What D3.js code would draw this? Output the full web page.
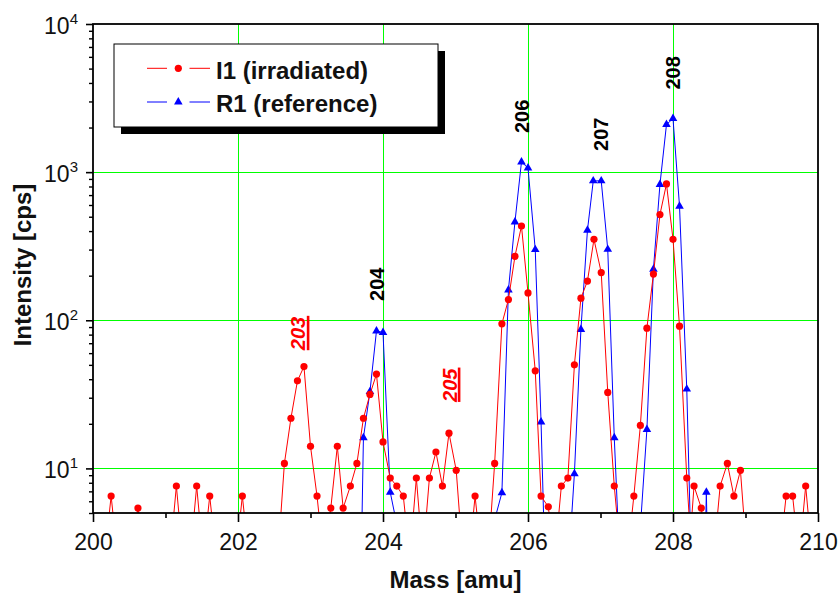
<!DOCTYPE html>
<html>
<head>
<meta charset="utf-8">
<script src="https://cdn.jsdelivr.net/npm/d3@7"></script>
<style>
  body { margin: 0; background: #fff; }
  svg text { font-family: "Liberation Sans", Arial, Helvetica, sans-serif; }
</style>
</head>
<body>
<svg id="chart" width="839" height="596"></svg>
<script>
// I1 (irradiated): mass [amu] and intensity [cps]; values under 5 cps fall below the axis
const massI1 = [200.16,200.25,200.34,200.52,200.62,200.71,201.06,201.15,201.24,201.34,201.43,201.52,201.61,201.70,
  201.97,202.06,202.15,202.55,202.64,202.73,202.82,202.91,203.00,203.09,203.18,203.28,203.37,203.45,203.55,203.64,
  203.73,203.82,203.91,204.00,204.10,204.19,204.28,204.37,204.46,204.55,204.64,204.73,204.82,204.91,205.01,205.10,
  205.19,205.27,205.36,205.45,205.54,205.64,205.73,205.82,205.91,206.00,206.10,206.18,206.28,206.37,206.46,206.55,
  206.64,206.73,206.82,206.91,207.01,207.10,207.19,207.28,207.37,207.46,207.55,207.64,207.73,207.82,207.91,208.00,
  208.09,208.19,208.24,208.29,208.39,208.47,208.56,208.65,208.75,208.84,208.93,209.02,209.47,209.56,209.65,209.74,
  209.83,209.92];
const cpsI1 = [2.5,6.5,2.5,2.5,5.4,2.5,2.5,7.6,2.5,2.5,7.6,2.5,6.5,2.5,
  2.5,6.5,2.5,2.5,10.8,21.8,39,48.7,14.1,6.5,2.5,5.4,14.1,5.4,7.6,10.8,
  21.8,31.6,43.3,15.1,8.6,7.6,6.5,2.5,8.6,2.5,8.6,12.9,7.6,17.3,9.7,2.5,
  2.5,6.5,2.5,2.5,10.8,94.6,138,270,433,153,45.6,6.5,5.5,2.5,7.6,8.6,
  50,141,184,352,210,32.6,7.6,2.5,2.5,6.5,19.5,88.5,205,517,832,352,
  91.2,8.6,3.5,7.6,5.4,2.5,2.5,7.6,10.8,6.5,9.7,2.5,2.5,6.5,6.5,2.5,
  7.6,2.5];

// R1 (reference)
const massR1 = [203.64,203.73,203.82,203.91,204.00,204.10,204.19,205.54,205.64,205.73,205.82,205.91,206.00,206.10,
  206.18,206.28,206.55,206.64,206.73,206.82,206.90,207.01,207.10,207.19,207.28,207.55,207.64,207.73,207.82,207.91,
  208.00,208.09,208.19,208.28,208.37,208.46,208.55];
const cpsR1 = [0.05,16.1,33,84.7,82.8,6.9,4.2,4.5,6.85,160,461,1172,1067,300,
  20.6,0.33,1.9,9.2,86.7,405,873,873,301,16.1,1.6,4,18.3,221,825,2094,
  2301,589,34.3,0.68,0.05,6.9,0.05];

const seriesNames = ["I1 (irradiated)", "R1 (reference)"];
const xMajorTicks = [200, 202, 204, 206, 208, 210];
const xMinorTicks = [201, 203, 205, 207, 209];
const yDecades = [10, 100, 1000, 10000];
const yGrid = [10, 100, 1000];
const xGrid = [202, 204, 206, 208];

// isotope annotations, anchored at (mass, cps) of the text start
const noteText = ["203", "204", "205", "206", "207", "208"];
const noteMass = [202.931, 204.014, 205.014, 206.014, 207.103, 208.103];
const noteCps  = [62.8, 135, 28.1, 1837, 1390, 3606];
const noteRed  = [true, false, true, false, false, false];

const svg = d3.select("#chart");
const L = 93, R = 818, T = 24, B = 513;
const x = d3.scaleLinear().domain([200, 210]).range([L, R]);
const y = d3.scaleLog().domain([5, 10000]).range([B, T]);

const RED = "#ff0000", BLUE = "#0000ff", GREEN = "#00ff00";

svg.append("defs").append("clipPath").attr("id", "plotclip")
  .append("rect").attr("x", L).attr("y", T).attr("width", R - L).attr("height", B - T);

// grid
const grid = svg.append("g").attr("stroke", GREEN).attr("stroke-width", 1).attr("shape-rendering", "crispEdges");
grid.selectAll("line.v").data(xGrid).join("line")
  .attr("x1", d => x(d)).attr("x2", d => x(d)).attr("y1", T).attr("y2", B);
grid.selectAll("line.h").data(yGrid).join("line")
  .attr("y1", d => y(d)).attr("y2", d => y(d)).attr("x1", L).attr("x2", R);

// series
const plot = svg.append("g").attr("clip-path", "url(#plotclip)");
const line = d3.line().x(d => x(d[0])).y(d => y(d[1]));
const dataI1 = massI1.map((m, i) => [m, cpsI1[i]]);
const dataR1 = massR1.map((m, i) => [m, cpsR1[i]]);

plot.append("path").datum(dataR1).attr("d", line)
  .attr("fill", "none").attr("stroke", BLUE).attr("stroke-width", 1);
const tri = d3.symbol().type(d3.symbolTriangle).size(32);
plot.selectAll("path.tri").data(dataR1.filter(d => d[1] >= 5)).join("path")
  .attr("class", "tri").attr("d", tri)
  .attr("transform", d => `translate(${x(d[0])},${y(d[1])})`)
  .attr("fill", BLUE);

plot.append("path").datum(dataI1).attr("d", line)
  .attr("fill", "none").attr("stroke", RED).attr("stroke-width", 1);
plot.selectAll("circle").data(dataI1.filter(d => d[1] >= 5)).join("circle")
  .attr("cx", d => x(d[0])).attr("cy", d => y(d[1])).attr("r", 3.6)
  .attr("fill", RED);

// axes
const axX = svg.append("g").attr("transform", `translate(0,${B})`)
  .call(d3.axisBottom(x).tickValues(xMajorTicks).tickSize(9).tickFormat(d3.format("d")));
axX.select(".domain").remove();
axX.selectAll("line").attr("stroke-width", 1.6);
axX.selectAll("text").attr("dy", null).attr("y", 37)
  .attr("font-size", 23).attr("fill", "#111");
const axXm = svg.append("g").attr("transform", `translate(0,${B})`)
  .call(d3.axisBottom(x).tickValues(xMinorTicks).tickSize(5).tickFormat(""));
axXm.select(".domain").remove();
axXm.selectAll("line").attr("stroke-width", 1.6);

const yMinor = [];
[1, 10, 100, 1000].forEach(dec => { for (let k = 2; k <= 9; k++) { const v = k * dec; if (v >= 5 && v <= 10000) yMinor.push(v); } });
const axYm = svg.append("g").attr("transform", `translate(${L},0)`)
  .call(d3.axisLeft(y).tickValues(yMinor).tickSize(4).tickFormat(""));
axYm.select(".domain").remove();
axYm.selectAll("line").attr("stroke-width", 1.4);

const axY = svg.append("g").attr("transform", `translate(${L},0)`)
  .call(d3.axisLeft(y).tickValues(yDecades).tickSize(7).tickFormat(() => ""));
axY.select(".domain").remove();
axY.selectAll("line").attr("stroke-width", 1.6);
axY.selectAll(".tick").each(function (d) {
  const t = d3.select(this).select("text")
    .attr("x", -15).attr("dy", null).attr("y", 9)
    .attr("font-size", 23).attr("fill", "#111").attr("text-anchor", "end");
  t.text(null);
  t.append("tspan").text("10");
  t.append("tspan").attr("font-size", 15).attr("dy", -10).text(String(Math.round(Math.log10(d))));
});

// frame
svg.append("rect").attr("x", L).attr("y", T).attr("width", R - L).attr("height", B - T)
  .attr("fill", "none").attr("stroke", "#000").attr("stroke-width", 1.8);

// axis titles
svg.append("text").attr("x", (L + R) / 2).attr("y", 588).attr("text-anchor", "middle")
  .attr("font-size", 24).attr("font-weight", "bold").attr("fill", "#111").text("Mass [amu]");
svg.append("text").attr("transform", "translate(30.5,265) rotate(-90)").attr("text-anchor", "middle")
  .attr("font-size", 24).attr("font-weight", "bold").attr("fill", "#111").text("Intensity [cps]");

// isotope annotations
noteText.forEach((txt, i) => {
  const g = svg.append("g")
    .attr("transform", `translate(${x(noteMass[i])},${y(noteCps[i])}) rotate(-90)`);
  const t = g.append("text").attr("x", 0).attr("y", 0)
    .attr("font-size", 20).attr("font-weight", "bold")
    .attr("font-style", noteRed[i] ? "italic" : "normal")
    .attr("fill", noteRed[i] ? RED : "#000").text(txt);
  if (noteRed[i]) {
    const len = t.node().getComputedTextLength();
    g.append("line").attr("x1", 0).attr("x2", len + 1).attr("y1", 2.6).attr("y2", 2.6)
      .attr("stroke", RED).attr("stroke-width", 2.6);
  }
});

// legend
const lg = svg.append("g");
lg.append("rect").attr("x", 121).attr("y", 51).attr("width", 324).attr("height", 83).attr("fill", "#000");
lg.append("rect").attr("x", 114).attr("y", 44).attr("width", 324).attr("height", 83)
  .attr("fill", "#fff").attr("stroke", "#000").attr("stroke-width", 1);
const legendRows = [
  { name: seriesNames[0], color: RED, cy: 68.3, mark: "circle" },
  { name: seriesNames[1], color: BLUE, cy: 102, mark: "tri" }
];
legendRows.forEach(r => {
  lg.append("line").attr("x1", 147).attr("x2", 167).attr("y1", r.cy).attr("y2", r.cy)
    .attr("stroke", r.color).attr("stroke-width", 1);
  lg.append("line").attr("x1", 189.5).attr("x2", 210).attr("y1", r.cy).attr("y2", r.cy)
    .attr("stroke", r.color).attr("stroke-width", 1);
  if (r.mark === "circle") {
    lg.append("circle").attr("cx", 178.3).attr("cy", r.cy).attr("r", 3.6).attr("fill", r.color);
  } else {
    lg.append("path").attr("d", tri).attr("transform", `translate(178.3,${r.cy})`).attr("fill", r.color);
  }
  lg.append("text").attr("x", 216).attr("y", r.cy + 10.2)
    .attr("font-size", 24).attr("font-weight", "bold").attr("fill", "#111").text(r.name);
});
</script>
</body>
</html>
